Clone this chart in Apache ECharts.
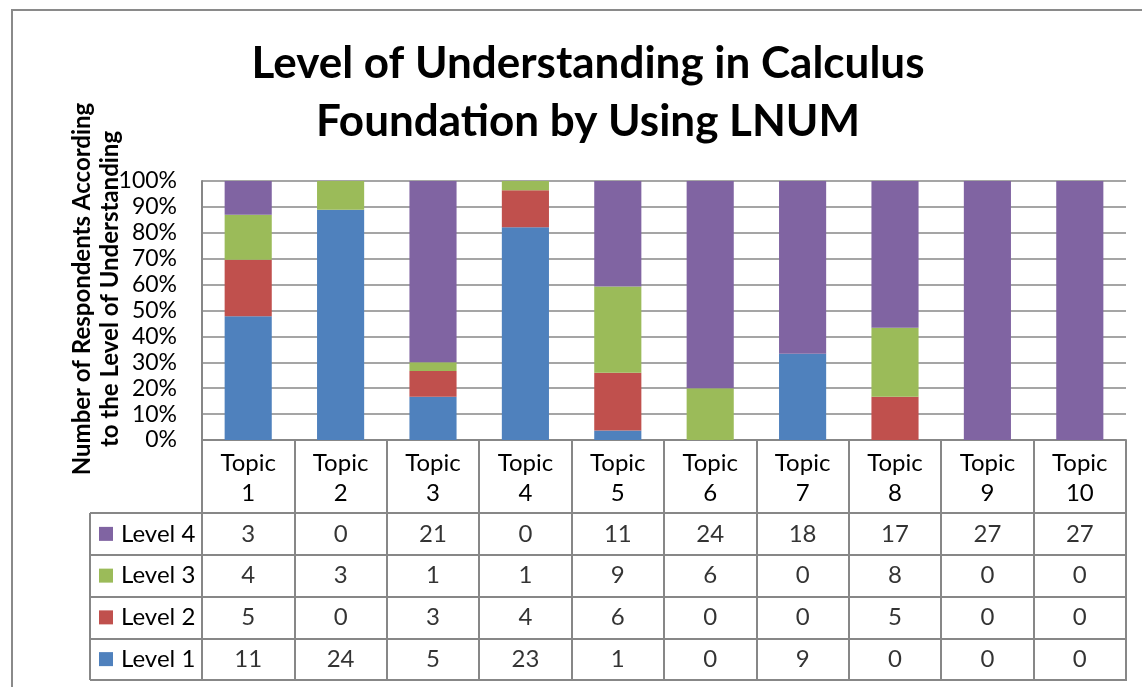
<!DOCTYPE html>
<html>
<head>
<meta charset="utf-8">
<script src="https://cdn.jsdelivr.net/npm/echarts@6/dist/echarts.min.js"></script>
<style>
html,body{margin:0;padding:0;background:#fff;}
#c{width:1142px;height:687px;}
</style>
</head>
<body>
<div id="c"></div>
<script>
var topics = ['1','2','3','4','5','6','7','8','9','10'];
var levelNames = ['Level 1','Level 2','Level 3','Level 4'];
var level1 = [11, 24, 5, 23, 1, 0, 9, 0, 0, 0];
var level2 = [5, 0, 3, 4, 6, 0, 0, 5, 0, 0];
var level3 = [4, 3, 1, 1, 9, 6, 0, 8, 0, 0];
var level4 = [3, 0, 21, 0, 11, 24, 18, 17, 27, 27];
var yTicks = [0,10,20,30,40,50,60,70,80,90,100];
var colors = ['#4F81BD','#C0504D','#9BBB59','#8064A2'];
var FONT = 'Lato, "Open Sans", sans-serif';
var GRID = '#878787';

var levels = [level1, level2, level3, level4];
var totals = topics.map(function(t,i){ return level1[i]+level2[i]+level3[i]+level4[i]; });

var barSeries = levels.map(function(arr, k){
  return {
    name: levelNames[k], type: 'bar', stack: 'all',
    xAxisIndex: 0, yAxisIndex: 0,
    barWidth: '51%',
    itemStyle: {color: colors[k]},
    data: arr.map(function(v,i){ return totals[i] ? v/totals[i]*100 : 0; })
  };
});

var cellData = [];
levels.forEach(function(arr, k){
  arr.forEach(function(v, i){ cellData.push([i, k, v]); });
});

var rich = {t: {fontFamily: FONT, fontSize: 24, color: '#000', padding: [0,0,0,8]}};
colors.forEach(function(c, i){ rich['s' + i] = {backgroundColor: c, width: 14, height: 14}; });

var chart = echarts.init(document.getElementById('c'));
chart.setOption({
  animation: false,
  backgroundColor: '#fff',
  title: {
    text: 'Level of Understanding in Calculus\nFoundation by Using LNUM',
    left: 583, top: 30, textAlign: 'center',
    textStyle: {fontFamily: FONT, fontWeight: 'bold', fontSize: 44, lineHeight: 58, color: '#000'}
  },
  grid: [
    {left: 202, right: 16, top: 181, height: 259},
    {left: 202, right: 16, top: 513, height: 167, show: true, borderColor: GRID, borderWidth: 2}
  ],
  xAxis: [
    {type: 'category', gridIndex: 0, data: topics,
     axisLine: {show: true, lineStyle: {color: GRID, width: 2}},
     axisTick: {show: true, length: 73, lineStyle: {color: GRID, width: 2}},
     axisLabel: {formatter: function(v){ return 'Topic\n' + v; }, fontFamily: FONT, fontSize: 24, lineHeight: 30, color: '#000', margin: 8}},
    {type: 'category', gridIndex: 1, data: topics,
     axisLine: {show: false}, axisTick: {show: false}, axisLabel: {show: false},
     splitLine: {show: true, lineStyle: {color: GRID, width: 2}}}
  ],
  yAxis: [
    {type: 'value', gridIndex: 0, min: 0, max: 100, interval: 10,
     axisLine: {show: true, lineStyle: {color: GRID, width: 2}},
     axisTick: {show: false},
     splitLine: {show: true, lineStyle: {color: GRID, width: 1.5}},
     axisLabel: {formatter: '{value}%', fontFamily: FONT, fontSize: 23, color: '#000', margin: 25}},
    {type: 'category', gridIndex: 1, data: levelNames,
     axisLine: {show: false},
     axisTick: {show: true, length: 112, lineStyle: {color: GRID, width: 2}},
     splitLine: {show: true, lineStyle: {color: GRID, width: 2}},
     axisLabel: {align: 'left', margin: 103, fontFamily: FONT, fontSize: 24, color: '#000',
       formatter: function(v, i){ return '{s' + i + '|}{t|' + v + '}'; },
       rich: rich}}
  ],
  series: barSeries.concat([{
    type: 'scatter', xAxisIndex: 1, yAxisIndex: 1,
    symbolSize: 1, itemStyle: {color: 'rgba(0,0,0,0)'},
    label: {show: true, position: 'inside', fontFamily: FONT, fontSize: 24, color: '#000',
      formatter: function(p){ return String(p.value[2]); }},
    data: cellData
  }]),
  graphic: [
    {type: 'rect', shape: {x: 12, y: 10, width: 1200, height: 800}, style: {fill: 'none', stroke: '#8a8a8a', lineWidth: 2}, silent: true},
    {type: 'line', shape: {x1: 90, y1: 513, x2: 90, y2: 680}, style: {stroke: GRID, lineWidth: 2}, silent: true},
    {type: 'text', x: 96, y: 289, rotation: Math.PI/2,
     style: {text: 'Number of Respondents According\nto the Level of Understanding', fontFamily: FONT, fontWeight: 'bold', fontSize: 24, lineHeight: 28, fill: '#000', textAlign: 'center', textVerticalAlign: 'middle'}}
  ]
});
</script>
</body>
</html>
